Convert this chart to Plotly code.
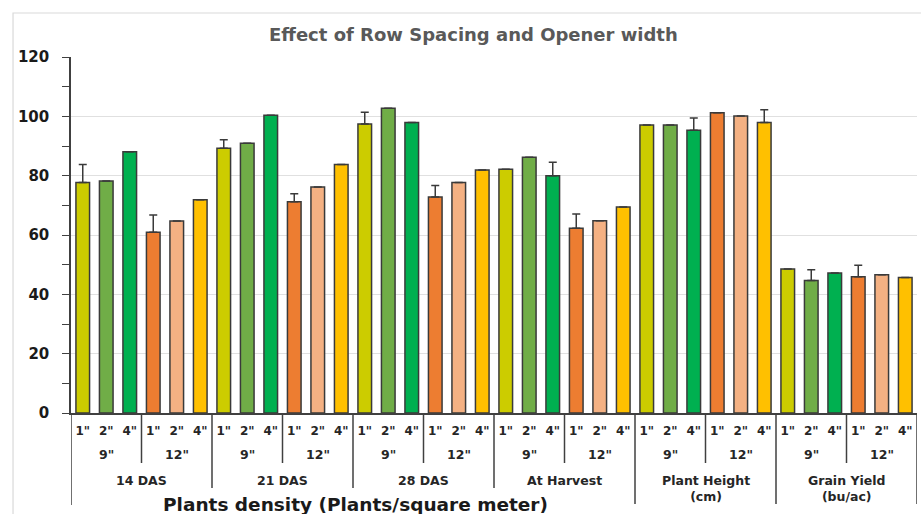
import plotly.graph_objects as go

# ---- data ----
groups = ["14 DAS", "21 DAS", "28 DAS", "At Harvest", "Plant Height<br>(cm)", "Grain Yield<br>(bu/ac)"]
row_spacings = ['9"', '12"']
openers = ['1"', '2"', '4"']

# values per treatment (row spacing, opener) across the six groups
v_9_1 = [77.7, 89.2, 97.4, 82.2, 97.1, 48.5]
v_9_2 = [78.2, 90.9, 102.7, 86.2, 97.1, 44.7]
v_9_4 = [88.1, 100.4, 97.9, 80.0, 95.3, 47.2]
v_12_1 = [60.9, 71.2, 72.8, 62.3, 101.2, 45.9]
v_12_2 = [64.7, 76.2, 77.7, 64.8, 100.1, 46.6]
v_12_4 = [71.9, 83.8, 81.9, 69.4, 97.9, 45.7]

# upper error bars (0 = none)
e_9_1 = [6.1, 2.9, 4.0, 0, 0, 0]
e_9_2 = [0, 0, 0, 0, 0, 3.6]
e_9_4 = [0, 0, 0, 4.5, 4.1, 0]
e_12_1 = [5.8, 2.7, 3.9, 4.8, 0, 3.9]
e_12_2 = [0, 0, 0, 0, 0, 0]
e_12_4 = [0, 0, 0, 0, 4.3, 0]

y_ticks = [0, 20, 40, 60, 80, 100, 120]

series = [
    (0, 0, v_9_1, e_9_1, "#CCCC00"),
    (0, 1, v_9_2, e_9_2, "#70AD47"),
    (0, 2, v_9_4, e_9_4, "#00B050"),
    (1, 0, v_12_1, e_12_1, "#ED7D31"),
    (1, 1, v_12_2, e_12_2, "#F4B183"),
    (1, 2, v_12_4, e_12_4, "#FFC000"),
]

FONT = "DejaVu Sans"

fig = go.Figure()
ng = len(groups)
for s, o, vals, errs, col in series:
    xs = [g * 6 + s * 3 + o for g in range(ng)]
    fig.add_trace(go.Bar(
        x=xs, y=vals, width=0.58,
        marker=dict(color=col, line=dict(color="#3a3a3a", width=1.5)),
        error_y=dict(type="data", array=errs, arrayminus=[0] * ng, symmetric=False,
                     visible=True, color="#3a3a3a", thickness=1.5, width=4),
        showlegend=False,
    ))

PT, PB = 57, 413
PH = PB - PT
def py(px):
    return (PB - px) / PH

shapes = []
line_col = "#404040"
# outer light border
shapes.append(dict(type="rect", xref="paper", yref="paper", x0=(13 - 71) / 846.5, x1=1.2,
                   y0=-0.5, y1=py(13), line=dict(color="#D9D9D9", width=1.2), layer="below"))
# left axis extension and right edge
shapes.append(dict(type="line", xref="x", yref="paper", x0=-0.5, x1=-0.5, y0=0, y1=py(505),
                   line=dict(color=line_col, width=1.5)))
shapes.append(dict(type="line", xref="x", yref="paper", x0=35.5, x1=35.5, y0=0, y1=py(504),
                   line=dict(color=line_col, width=1.5)))
for g in range(ng):
    # separator between row spacings
    shapes.append(dict(type="line", xref="x", yref="paper", x0=g * 6 + 2.5, x1=g * 6 + 2.5,
                       y0=0, y1=py(463), line=dict(color=line_col, width=1.5)))
    if g > 0:
        bottom = 504 if g >= 4 else 488
        shapes.append(dict(type="line", xref="x", yref="paper", x0=g * 6 - 0.5, x1=g * 6 - 0.5,
                           y0=0, y1=py(bottom), line=dict(color=line_col, width=1.5)))

lab_font = dict(family=FONT, size=12.5, color="#262626", weight="bold")
annotations = []
for g in range(ng):
    for s in range(2):
        annotations.append(dict(text=row_spacings[s], x=g * 6 + s * 3 + 1, xref="x",
                                y=py(454), yref="paper", yanchor="middle", showarrow=False,
                                font=lab_font))
    annotations.append(dict(text=groups[g], x=g * 6 + 2.5, xref="x",
                            y=py(471), yref="paper", yanchor="top", showarrow=False,
                            font=lab_font))
annotations.append(dict(text="Effect of Row Spacing and Opener width", x=(474 - 71) / 846.5,
                        xref="paper", y=py(35), yref="paper", yanchor="middle", showarrow=False,
                        font=dict(family=FONT, size=18, color="#595959", weight="bold")))
annotations.append(dict(text="Plants density (Plants/square meter)", x=(356 - 71) / 846.5,
                        xref="paper", y=py(504), yref="paper", yanchor="middle", showarrow=False,
                        font=dict(family=FONT, size=18.5, color="#1a1a1a", weight="bold")))

tickvals = list(range(36))
ticktext = [openers[i % 3] for i in range(36)]

fig.update_layout(
    width=921, height=514,
    margin=dict(l=71, r=3.5, t=PT, b=514 - PB),
    plot_bgcolor="white", paper_bgcolor="white",
    barmode="overlay",
    shapes=shapes, annotations=annotations,
    xaxis=dict(range=[-0.5, 35.5], tickvals=tickvals, ticktext=ticktext, showgrid=False,
               showline=True, linecolor=line_col, linewidth=1.5, ticks="", zeroline=False,
               ticklabelstandoff=6,
               tickfont=dict(family=FONT, size=12, color="#262626", weight="bold")),
    yaxis=dict(range=[0, 120], tickvals=y_ticks, showgrid=True, gridcolor="#E0E0E0", gridwidth=1,
               showline=True, linecolor=line_col, linewidth=1.5, ticks="outside", ticklen=7,
               tickcolor=line_col, tickwidth=1.2, zeroline=False, ticklabelstandoff=10,
               minor=dict(dtick=10, ticks="outside", ticklen=7, tickcolor=line_col, showgrid=False),
               tickfont=dict(family=FONT, size=15, color="#1a1a1a", weight="bold")),
)

fig.write_html("out.html", config={"displayModeBar": False},
               post_script="document.body.style.margin='0';document.body.style.overflow='hidden';")
